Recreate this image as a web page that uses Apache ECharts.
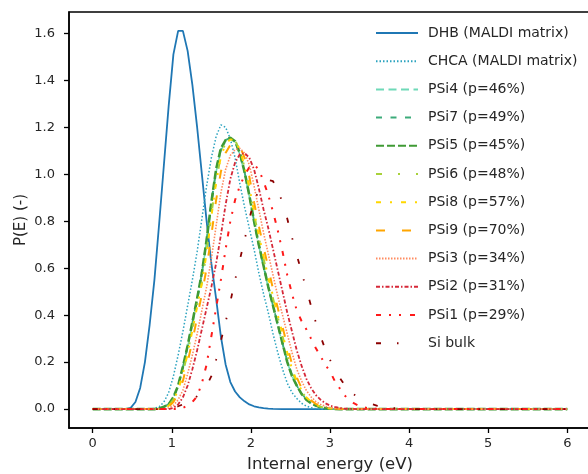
<!DOCTYPE html>
<html>
<head>
<meta charset="utf-8">
<script src="https://cdn.jsdelivr.net/npm/echarts@6/dist/echarts.min.js"></script>
<style>
  html, body { margin: 0; padding: 0; background: #fff; }
  #chart { width: 588px; height: 474px; }
</style>
</head>
<body>
<div id="chart"></div>
<script>
// tick labels
const xTicks = [0, 1, 2, 3, 4, 5, 6];
const yTicks = [0, 0.2, 0.4, 0.6, 0.8, 1.0, 1.2, 1.4, 1.6];

// legend names
const names = [
  'DHB (MALDI matrix)', 'CHCA (MALDI matrix)', 'PSi4 (p=46%)', 'PSi7 (p=49%)',
  'PSi5 (p=45%)', 'PSi6 (p=48%)', 'PSi8 (p=57%)', 'PSi9 (p=70%)',
  'PSi3 (p=34%)', 'PSi2 (p=31%)', 'PSi1 (p=29%)', 'Si bulk',
];

// [energy (eV), P(E)]
const dhb = [[0, 0], [0.42, 0], [0.48, 0.005], [0.54, 0.03], [0.60, 0.09], [0.66, 0.20], [0.72, 0.36], [0.78, 0.55], [0.84, 0.79], [0.90, 1.04], [0.96, 1.29], [1.02, 1.51], [1.08, 1.61], [1.14, 1.61], [1.20, 1.525], [1.26, 1.38], [1.32, 1.20], [1.38, 1.00], [1.44, 0.80], [1.50, 0.62], [1.56, 0.47], [1.62, 0.31], [1.68, 0.19], [1.74, 0.115], [1.80, 0.075], [1.86, 0.05], [1.92, 0.033], [1.98, 0.02], [2.04, 0.012], [2.10, 0.007], [2.16, 0.004], [2.22, 0.002], [2.28, 0.001], [2.40, 0], [6, 0]];
const chca = [[0, 0], [0.72, 0], [0.78, 0.003], [0.84, 0.01], [0.90, 0.03], [0.96, 0.07], [1.02, 0.14], [1.08, 0.23], [1.14, 0.33], [1.20, 0.44], [1.26, 0.55], [1.32, 0.67], [1.38, 0.81], [1.44, 0.95], [1.50, 1.07], [1.56, 1.16], [1.62, 1.21], [1.68, 1.20], [1.74, 1.15], [1.80, 1.07], [1.86, 0.96], [1.92, 0.86], [1.98, 0.77], [2.04, 0.68], [2.10, 0.58], [2.16, 0.49], [2.22, 0.41], [2.28, 0.32], [2.34, 0.24], [2.40, 0.17], [2.46, 0.11], [2.52, 0.07], [2.58, 0.045], [2.64, 0.025], [2.70, 0.013], [2.76, 0.006], [2.82, 0.002], [2.94, 0], [6, 0]];
const psi4 = [[0, 0], [0.78, 0], [0.84, 0.003], [0.90, 0.01], [0.96, 0.022], [1.02, 0.05], [1.08, 0.10], [1.14, 0.175], [1.20, 0.265], [1.26, 0.36], [1.32, 0.46], [1.38, 0.575], [1.44, 0.715], [1.50, 0.875], [1.56, 1.01], [1.62, 1.10], [1.68, 1.14], [1.74, 1.15], [1.80, 1.135], [1.86, 1.085], [1.92, 1.005], [1.98, 0.905], [2.04, 0.795], [2.10, 0.695], [2.16, 0.605], [2.22, 0.515], [2.28, 0.435], [2.34, 0.355], [2.40, 0.275], [2.46, 0.20], [2.52, 0.14], [2.58, 0.10], [2.64, 0.065], [2.70, 0.04], [2.76, 0.025], [2.82, 0.015], [2.88, 0.008], [2.94, 0.004], [3.00, 0.002], [3.12, 0], [6, 0]];
const psi7 = [[0, 0], [0.78, 0], [0.84, 0.003], [0.90, 0.01], [0.96, 0.02], [1.02, 0.048], [1.08, 0.098], [1.14, 0.178], [1.20, 0.268], [1.26, 0.368], [1.32, 0.468], [1.38, 0.58], [1.44, 0.72], [1.50, 0.88], [1.56, 1.02], [1.62, 1.105], [1.68, 1.145], [1.74, 1.155], [1.80, 1.14], [1.86, 1.09], [1.92, 1.01], [1.98, 0.91], [2.04, 0.80], [2.10, 0.70], [2.16, 0.61], [2.22, 0.52], [2.28, 0.44], [2.34, 0.36], [2.40, 0.28], [2.46, 0.205], [2.52, 0.145], [2.58, 0.10], [2.64, 0.066], [2.70, 0.042], [2.76, 0.026], [2.82, 0.015], [2.88, 0.008], [2.94, 0.004], [3.00, 0.002], [3.12, 0], [6, 0]];
const psi5 = [[0, 0], [0.78, 0], [0.84, 0.003], [0.90, 0.01], [0.96, 0.02], [1.02, 0.05], [1.08, 0.10], [1.14, 0.18], [1.20, 0.27], [1.26, 0.37], [1.32, 0.47], [1.38, 0.58], [1.44, 0.72], [1.50, 0.88], [1.56, 1.02], [1.62, 1.11], [1.68, 1.145], [1.74, 1.155], [1.80, 1.14], [1.86, 1.09], [1.92, 1.01], [1.98, 0.91], [2.04, 0.80], [2.10, 0.70], [2.16, 0.61], [2.22, 0.52], [2.28, 0.44], [2.34, 0.36], [2.40, 0.28], [2.46, 0.20], [2.52, 0.14], [2.58, 0.10], [2.64, 0.065], [2.70, 0.04], [2.76, 0.025], [2.82, 0.015], [2.88, 0.008], [2.94, 0.004], [3.00, 0.002], [3.12, 0], [6, 0]];
const psi6 = [[0, 0], [0.84, 0], [0.90, 0.005], [0.96, 0.015], [1.02, 0.04], [1.08, 0.085], [1.14, 0.155], [1.20, 0.24], [1.26, 0.34], [1.32, 0.44], [1.38, 0.54], [1.44, 0.67], [1.50, 0.83], [1.56, 0.97], [1.62, 1.08], [1.68, 1.135], [1.74, 1.15], [1.80, 1.145], [1.86, 1.10], [1.92, 1.03], [1.98, 0.94], [2.04, 0.83], [2.10, 0.73], [2.16, 0.64], [2.22, 0.55], [2.28, 0.47], [2.34, 0.39], [2.40, 0.31], [2.46, 0.23], [2.52, 0.16], [2.58, 0.115], [2.64, 0.075], [2.70, 0.048], [2.76, 0.03], [2.82, 0.018], [2.88, 0.01], [2.94, 0.005], [3.00, 0.002], [3.12, 0], [6, 0]];
const psi8 = [[0, 0], [0.84, 0], [0.90, 0.004], [0.96, 0.014], [1.02, 0.038], [1.08, 0.08], [1.14, 0.15], [1.20, 0.235], [1.26, 0.335], [1.32, 0.435], [1.38, 0.535], [1.44, 0.665], [1.50, 0.82], [1.56, 0.965], [1.62, 1.075], [1.68, 1.13], [1.74, 1.148], [1.80, 1.145], [1.86, 1.105], [1.92, 1.035], [1.98, 0.945], [2.04, 0.84], [2.10, 0.74], [2.16, 0.65], [2.22, 0.56], [2.28, 0.48], [2.34, 0.40], [2.40, 0.32], [2.46, 0.24], [2.52, 0.17], [2.58, 0.12], [2.64, 0.08], [2.70, 0.05], [2.76, 0.032], [2.82, 0.019], [2.88, 0.011], [2.94, 0.006], [3.00, 0.003], [3.12, 0], [6, 0]];
const psi9 = [[0, 0], [0.84, 0], [0.90, 0.003], [0.96, 0.01], [1.02, 0.03], [1.08, 0.065], [1.14, 0.12], [1.20, 0.20], [1.26, 0.29], [1.32, 0.39], [1.38, 0.49], [1.44, 0.60], [1.50, 0.74], [1.56, 0.89], [1.62, 1.01], [1.68, 1.09], [1.74, 1.125], [1.80, 1.135], [1.86, 1.12], [1.92, 1.07], [1.98, 0.99], [2.04, 0.88], [2.10, 0.78], [2.16, 0.69], [2.22, 0.60], [2.28, 0.51], [2.34, 0.43], [2.40, 0.35], [2.46, 0.27], [2.52, 0.19], [2.58, 0.135], [2.64, 0.09], [2.70, 0.06], [2.76, 0.037], [2.82, 0.022], [2.88, 0.012], [2.94, 0.006], [3.00, 0.003], [3.18, 0], [6, 0]];
const psi3 = [[0, 0], [0.90, 0], [0.96, 0.005], [1.02, 0.015], [1.08, 0.04], [1.14, 0.08], [1.20, 0.15], [1.26, 0.23], [1.32, 0.32], [1.38, 0.42], [1.44, 0.52], [1.50, 0.64], [1.56, 0.78], [1.62, 0.92], [1.68, 1.02], [1.74, 1.08], [1.80, 1.105], [1.86, 1.11], [1.92, 1.09], [1.98, 1.04], [2.04, 0.95], [2.10, 0.85], [2.16, 0.75], [2.22, 0.66], [2.28, 0.57], [2.34, 0.48], [2.40, 0.40], [2.46, 0.32], [2.52, 0.24], [2.58, 0.17], [2.64, 0.12], [2.70, 0.08], [2.76, 0.052], [2.82, 0.033], [2.88, 0.02], [2.94, 0.012], [3.00, 0.006], [3.06, 0.003], [3.24, 0], [6, 0]];
const psi2 = [[0, 0], [0.96, 0], [1.02, 0.005], [1.08, 0.02], [1.14, 0.05], [1.20, 0.10], [1.26, 0.17], [1.32, 0.25], [1.38, 0.34], [1.44, 0.43], [1.50, 0.52], [1.56, 0.62], [1.62, 0.74], [1.68, 0.87], [1.74, 0.98], [1.80, 1.05], [1.86, 1.085], [1.92, 1.09], [1.98, 1.07], [2.04, 1.02], [2.10, 0.94], [2.16, 0.85], [2.22, 0.77], [2.28, 0.68], [2.34, 0.59], [2.40, 0.50], [2.46, 0.41], [2.52, 0.33], [2.58, 0.25], [2.64, 0.185], [2.70, 0.13], [2.76, 0.09], [2.82, 0.06], [2.88, 0.04], [2.94, 0.025], [3.00, 0.015], [3.06, 0.009], [3.12, 0.005], [3.18, 0.002], [3.36, 0], [6, 0]];
const psi1 = [[0, 0], [1.08, 0], [1.14, 0.005], [1.20, 0.015], [1.26, 0.03], [1.32, 0.055], [1.38, 0.11], [1.44, 0.19], [1.50, 0.31], [1.56, 0.43], [1.62, 0.55], [1.68, 0.68], [1.74, 0.80], [1.80, 0.89], [1.86, 0.95], [1.92, 0.995], [1.98, 1.03], [2.04, 1.04], [2.10, 1.02], [2.16, 0.97], [2.22, 0.91], [2.28, 0.84], [2.34, 0.76], [2.40, 0.67], [2.46, 0.57], [2.52, 0.49], [2.58, 0.42], [2.64, 0.375], [2.70, 0.34], [2.76, 0.30], [2.82, 0.26], [2.88, 0.225], [2.94, 0.19], [3.00, 0.16], [3.06, 0.12], [3.12, 0.09], [3.18, 0.06], [3.24, 0.04], [3.30, 0.025], [3.36, 0.015], [3.42, 0.008], [3.48, 0.004], [3.60, 0.001], [3.72, 0], [6, 0]];
const siBulk = [[0, 0], [0.96, 0], [1.02, 0.005], [1.08, 0.012], [1.14, 0.02], [1.20, 0.03], [1.26, 0.042], [1.32, 0.055], [1.38, 0.075], [1.44, 0.10], [1.50, 0.14], [1.56, 0.21], [1.62, 0.29], [1.68, 0.37], [1.74, 0.457], [1.80, 0.55], [1.86, 0.635], [1.92, 0.72], [1.98, 0.81], [2.04, 0.886], [2.10, 0.93], [2.16, 0.96], [2.22, 0.975], [2.28, 0.97], [2.34, 0.93], [2.40, 0.88], [2.46, 0.81], [2.52, 0.73], [2.58, 0.655], [2.64, 0.585], [2.70, 0.51], [2.76, 0.44], [2.82, 0.37], [2.88, 0.31], [2.94, 0.255], [3.00, 0.21], [3.06, 0.17], [3.12, 0.135], [3.18, 0.105], [3.24, 0.08], [3.30, 0.063], [3.36, 0.05], [3.42, 0.038], [3.48, 0.028], [3.54, 0.02], [3.60, 0.014], [3.66, 0.01], [3.72, 0.007], [3.84, 0.003], [3.96, 0.001], [4.08, 0], [6, 0]];

const allData = [dhb, chca, psi4, psi7, psi5, psi6, psi8, psi9, psi3, psi2, psi1, siBulk];

// colour, width, dash pattern per curve
const styles = [
  { color: '#1f77b4', width: 1.8, type: 'solid' },
  { color: '#2ba3bf', width: 1.5, type: [1.5, 2] },
  { color: '#6fd9b8', width: 1.6, type: [8, 4.5] },
  { color: '#3cab7a', width: 1.8, type: [6, 8.5] },
  { color: '#3f9a35', width: 2.6, type: [8, 3] },
  { color: '#a8d13a', width: 2, type: [6, 16, 2, 16] },
  { color: '#ffd700', width: 2, type: [5, 9, 2, 9] },
  { color: '#ffa500', width: 2, type: [9, 17] },
  { color: '#ff8c60', width: 1.6, type: [1.5, 1.5] },
  { color: '#d62838', width: 1.8, type: [4, 2, 1.5, 2] },
  { color: '#ff1a1a', width: 2, type: [5, 8, 2, 8, 2, 9] },
  { color: '#8b0000', width: 1.8, type: [5, 16, 1.5, 20] },
];

const series = allData.map((d, i) => ({
  name: names[i],
  type: 'line',
  data: d,
  symbol: 'none',
  showSymbol: false,
  lineStyle: { color: styles[i].color, width: styles[i].width, type: styles[i].type, cap: 'butt' },
  itemStyle: { color: styles[i].color },
}));

const font = 'DejaVu Sans';
const chart = echarts.init(document.getElementById('chart'));
chart.setOption({
  animation: false,
  grid: {
    left: 69, top: 12, width: 522, height: 416,
    outerBoundsMode: 'none',
    containLabel: false,
    show: true, borderColor: '#000', borderWidth: 1.5, backgroundColor: 'transparent',
  },
  legend: {
    orient: 'vertical',
    left: 370,
    top: 21,
    itemWidth: 42,
    itemHeight: 14,
    itemGap: 14.2,
    selectedMode: false,
    itemStyle: { opacity: 0 },
    textStyle: { fontFamily: font, fontSize: 14, color: '#262626', padding: [0, 0, 0, 5] },
    data: names,
  },
  xAxis: {
    type: 'value',
    min: -0.3,
    max: 6.3,
    name: 'Internal energy (eV)',
    nameLocation: 'middle',
    nameGap: 28,
    nameMoveOverlap: false,
    nameTextStyle: { fontFamily: font, fontSize: 16.5, color: '#262626' },
    axisLine: { onZero: false, lineStyle: { color: '#000', width: 1.5 } },
    axisTick: { show: true, length: 5, customValues: xTicks, lineStyle: { color: '#000', width: 1.3 } },
    axisLabel: { customValues: xTicks, margin: 9, fontFamily: font, fontSize: 13, color: '#262626' },
    splitLine: { show: false },
  },
  yAxis: {
    type: 'value',
    min: -0.0805,
    max: 1.6905,
    name: 'P(E) (-)',
    nameLocation: 'middle',
    nameGap: 40,
    nameMoveOverlap: false,
    nameTextStyle: { fontFamily: font, fontSize: 15, color: '#262626' },
    axisLine: { show: true, onZero: false, lineStyle: { color: '#000', width: 1.5 } },
    axisTick: { show: true, length: 5, customValues: yTicks, lineStyle: { color: '#000', width: 1.3 } },
    axisLabel: {
      customValues: yTicks, margin: 14, fontFamily: font, fontSize: 13, color: '#262626',
      formatter: (v) => v.toFixed(1),
    },
    splitLine: { show: false },
  },
  series: series,
});
</script>
</body>
</html>
